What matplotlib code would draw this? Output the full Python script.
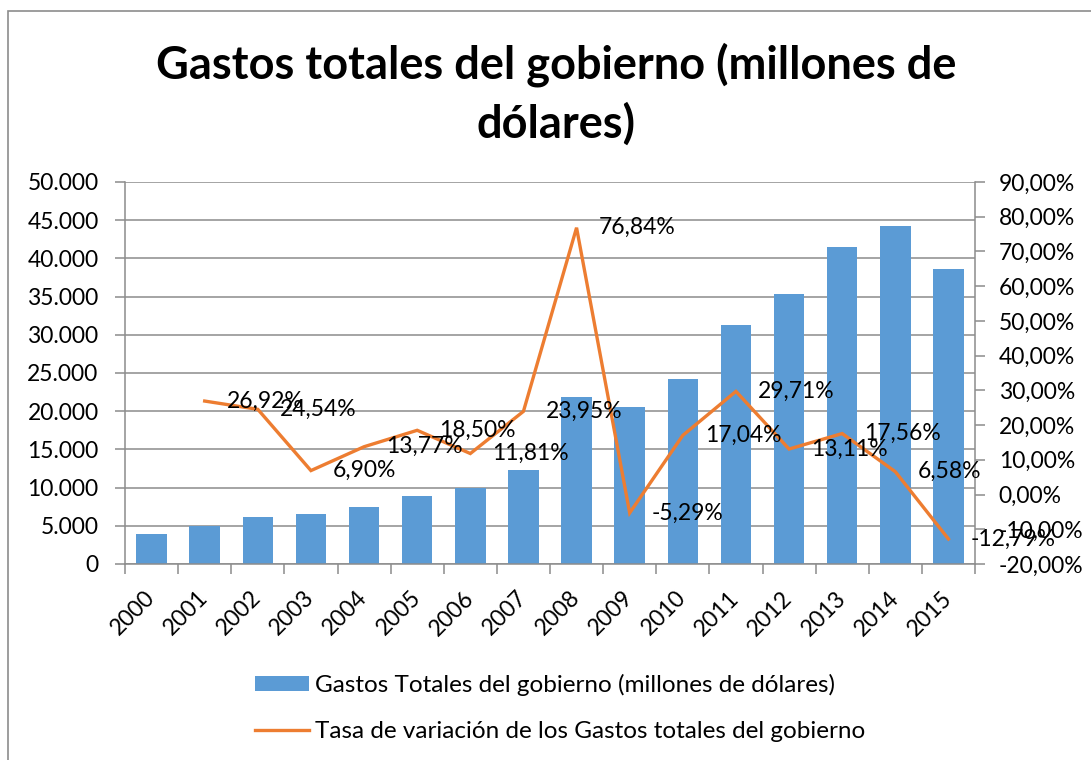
import matplotlib
matplotlib.use("Agg")
import matplotlib.pyplot as plt
from matplotlib.patches import Rectangle
from matplotlib.ticker import FuncFormatter, MultipleLocator

plt.rcParams['font.family'] = ['Lato', 'DejaVu Sans']

years = ['2000', '2001', '2002', '2003', '2004', '2005', '2006', '2007',
         '2008', '2009', '2010', '2011', '2012', '2013', '2014', '2015']
gastos = [3900, 5000, 6200, 6600, 7500, 8900, 10000, 12300,
          21800, 20600, 24200, 31300, 35300, 41500, 44300, 38650]
tasa_years = years[1:]
tasa = [26.92, 24.54, 6.90, 13.77, 18.50, 11.81, 23.95, 76.84,
        -5.29, 17.04, 29.71, 13.11, 17.56, 6.58, -12.79]
tasa_labels = ['26,92%', '24,54%', '6,90%', '13,77%', '18,50%', '11,81%', '23,95%',
               '76,84%', '-5,29%', '17,04%', '29,71%', '13,11%', '17,56%', '6,58%', '-12,79%']

title = 'Gastos totales del gobierno (millones de\ndólares)'
bar_label = 'Gastos Totales del gobierno (millones de dólares)'
line_label = 'Tasa de variación de los Gastos totales del gobierno'

BLUE = '#5B9BD5'
ORANGE = '#ED7D31'
GRID = '#8C8C8C'
FS = 16.5

W, H = 1091, 760
fig = plt.figure(figsize=(W / 100, H / 100), dpi=100)

# chart border
fig.patches.append(Rectangle((8 / W, -0.1), 1.2, 1.1 - 11 / H, transform=fig.transFigure,
                             fill=False, edgecolor='#8C8C8C', linewidth=1.2))

ax = fig.add_axes([125 / W, 1 - 564 / H, 850 / W, 382 / H])
x = list(range(len(years)))
ax.bar(x, gastos, width=0.575, color=BLUE, zorder=2, label=bar_label)
ax.set_xlim(-0.5, len(years) - 0.5)
ax.set_ylim(0, 50000)
ax.yaxis.set_major_locator(MultipleLocator(5000))
ax.yaxis.set_major_formatter(FuncFormatter(lambda v, p: f'{int(v):,}'.replace(',', '.')))
ax.grid(axis='y', color=GRID, linewidth=1.1, zorder=0)
ax.set_axisbelow(True)
for s in ['top', 'right']:
    ax.spines[s].set_visible(False)
for s in ['left', 'bottom']:
    ax.spines[s].set_color(GRID)
    ax.spines[s].set_linewidth(1.1)
ax.set_xticks(x)
ax.set_xticklabels(years, rotation=45, ha='right', va='center', rotation_mode='anchor', fontsize=FS)
ax.set_xticks([i - 0.5 for i in range(len(years) + 1)], minor=True)
ax.tick_params(axis='x', which='major', length=0, pad=22)
ax.tick_params(axis='x', which='minor', length=7, color=GRID, width=1.1)
ax.tick_params(axis='y', length=7, color=GRID, width=1.1, labelsize=FS, pad=12)

ax2 = ax.twinx()
ax2.set_ylim(-20, 90)
ax2.yaxis.set_major_locator(MultipleLocator(10))
ax2.yaxis.set_major_formatter(FuncFormatter(lambda v, p: f'{v:.2f}%'.replace('.', ',')))
tx = [years.index(y) for y in tasa_years]
ax2.plot(tx, tasa, color=ORANGE, linewidth=2.4, zorder=3, label=line_label,
         solid_joinstyle='miter')
for xi, v, lab in zip(tx, tasa, tasa_labels):
    ax2.annotate(lab, (xi, v), xytext=(22, 0), textcoords='offset pixels',
                 ha='left', va='center', fontsize=FS, color='black', zorder=4)
for s in ['top', 'left', 'bottom']:
    ax2.spines[s].set_visible(False)
ax2.spines['right'].set_color(GRID)
ax2.spines['right'].set_linewidth(1.1)
ax2.tick_params(axis='y', length=7, color=GRID, width=1.1, labelsize=FS, pad=10)

fig.text(556 / W, 1 - 94 / H, title, ha='center', va='center', fontsize=32.5,
         fontweight='bold', linespacing=1.45)

h1, l1 = ax.get_legend_handles_labels()
h2, l2 = ax2.get_legend_handles_labels()
fig.legend(h1 + h2, l1 + l2, loc='center', bbox_to_anchor=(560 / W, 1 - 708 / H),
           ncol=1, frameon=False, fontsize=17.5, handlelength=2.2, handleheight=0.55,
           handletextpad=0.25, labelspacing=1.05)

fig.savefig('out.png', dpi=100)
